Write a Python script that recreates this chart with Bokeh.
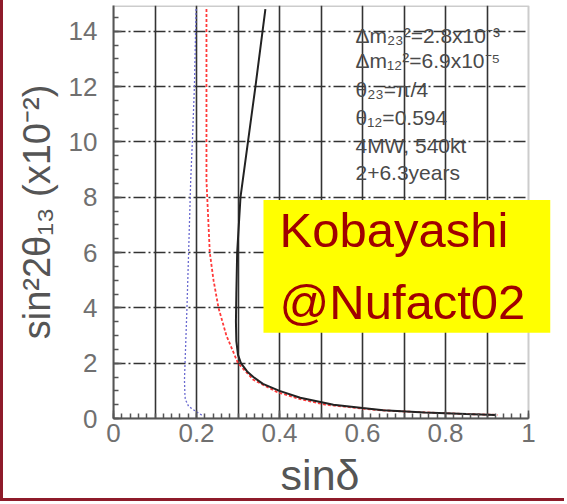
from bokeh.plotting import figure
from bokeh.models import FixedTicker, Label, Range1d, BoxAnnotation
from bokeh.embed import file_html
from bokeh.resources import INLINE

# ---- data ----
blue_x = [0.199, 0.195, 0.190, 0.186, 0.181, 0.177, 0.171, 0.172, 0.173, 0.181, 0.198, 0.217]
blue_y = [14.8, 12.0, 10.0, 8.6, 6.0, 4.0, 1.4, 0.9, 0.69, 0.44, 0.26, 0.08]

red_x = [0.224, 0.224, 0.232, 0.241, 0.253, 0.272, 0.300, 0.337, 0.395, 0.45, 0.51, 0.64, 0.75, 0.85, 0.926]
red_y = [14.8, 8.6, 6.0, 5.0, 4.0, 3.0, 2.0, 1.4, 0.95, 0.7, 0.5, 0.3, 0.22, 0.16, 0.13]

black_x = [0.366, 0.342, 0.324, 0.306, 0.298, 0.296, 0.295, 0.296, 0.300, 0.307, 0.322, 0.337, 0.36, 0.40, 0.45, 0.53, 0.60, 0.65, 0.75, 0.85, 0.92]
black_y = [14.8, 12.0, 10.0, 8.0, 6.0, 4.5, 3.5, 2.8, 2.3, 2.0, 1.7, 1.5, 1.25, 1.0, 0.75, 0.5, 0.38, 0.3, 0.22, 0.16, 0.13]

x_ticks = [0, 0.2, 0.4, 0.6, 0.8, 1.0]
x_tick_labels = ["0", "0.2", "0.4", "0.6", "0.8", "1"]
x_grid = [0.1, 0.2, 0.3, 0.4, 0.5, 0.6, 0.7, 0.8, 0.9]
y_ticks = [0, 2, 4, 6, 8, 10, 12, 14]

params = ["Δm₂₃²=2.8x10⁻³", "Δm₁₂²=6.9x10⁻⁵", "θ₂₃=π/4", "θ₁₂=0.594", "4MW, 540kt", "2+6.3years"]
params_y = [13.85, 12.95, 11.90, 10.89, 9.88, 8.91]
stamp = ["Kobayashi", "@Nufact02"]

FONT = "Liberation Sans"
YELLOW = "#FFFF00"
FRAME = "#555555"
X_MAX, Y_MAX = 1.0, 14.93

# the canvas area extends a little past x=1 so the yellow stamp can overhang the frame
p = figure(width=564, height=501, output_backend="svg", toolbar_location=None,
           x_range=Range1d(0, 1.053), y_range=Range1d(0, Y_MAX),
           min_border_left=110, min_border_right=17, min_border_top=5, min_border_bottom=82,
           background_fill_color="white", border_fill_color="white")
p.styles = {"border-left": "3px solid #8E1B2A", "border-bottom": "3px solid #8E1B2A"}
p.outline_line_color = None

# axes
p.xaxis.ticker = FixedTicker(ticks=x_ticks, minor_ticks=[round(0.02 * i, 2) for i in range(51)])
p.xaxis.major_label_overrides = {t: l for t, l in zip(x_ticks, x_tick_labels)}
p.xaxis.bounds = (0, X_MAX)
p.yaxis.ticker = FixedTicker(ticks=y_ticks, minor_ticks=[0.5 * i for i in range(30)])
for ax in (p.xaxis[0], p.yaxis[0]):
    ax.axis_line_color = FRAME
    ax.axis_line_width = 2
    ax.major_tick_in = 8
    ax.major_tick_out = 0
    ax.minor_tick_in = 5
    ax.minor_tick_out = 0
    ax.major_tick_line_color = FRAME
    ax.minor_tick_line_color = FRAME
    ax.major_tick_line_width = 1.5
    ax.minor_tick_line_width = 1.5
    ax.major_label_text_font = FONT
    ax.major_label_text_font_size = "26px"
    ax.major_label_text_color = "#707070"
    ax.axis_label_text_font = FONT
    ax.axis_label_text_font_style = "normal"
    ax.axis_label_text_color = "#555555"

p.xaxis.axis_label = "sinδ\u00a0\u00a0"
p.xaxis.axis_label_text_font_size = "43px"
p.xaxis.major_label_standoff = 5
p.xaxis.axis_label_standoff = 6

p.yaxis.axis_label = "sin²2θ₁₃ (x10⁻²)"
p.yaxis.axis_label_text_font_size = "38px"
p.yaxis.major_label_standoff = 16
p.yaxis.axis_label_standoff = 8

# grid
p.xgrid.ticker = FixedTicker(ticks=x_grid)
p.xgrid.grid_line_color = "#333333"
p.xgrid.grid_line_width = 1.6
yg = p.ygrid[0]
if "cross_bounds" in yg.properties():
    yg.ticker = FixedTicker(ticks=y_ticks)
    yg.cross_bounds = (0, X_MAX)
    yg.grid_line_color = "#333333"
    yg.grid_line_width = 1.6
    yg.grid_line_dash = "12 3 2 3"
else:
    yg.visible = False
    p.segment(x0=[0] * len(y_ticks), x1=[X_MAX] * len(y_ticks), y0=y_ticks, y1=y_ticks,
              line_color="#333333", line_width=1.6, line_dash="12 3 2 3")

# plot frame (0..1 in x)
p.add_layout(BoxAnnotation(left=0, right=X_MAX, bottom=0, top=Y_MAX - 0.02,
                           fill_alpha=0, line_color=FRAME, line_width=2, level="overlay"))

# curves
p.line(blue_x, blue_y, line_color="#6A6AD0", line_width=1.3, line_dash="2 2")
p.line(red_x, red_y, line_color="#FF3A3A", line_width=1.8, line_dash="3 2")
p.line(black_x, black_y, line_color="#222222", line_width=2)

# parameter text
for t, y in zip(params, params_y):
    p.add_layout(Label(x=0.583, y=y, text=t, text_font=FONT, text_font_size="21px",
                       text_color="#4A4A4A", text_baseline="middle", text_align="left"))

# yellow stamp
p.add_layout(BoxAnnotation(left=0.3614, right=1.053, top=7.898, bottom=3.101,
                           fill_color=YELLOW, fill_alpha=1.0, line_color=None, level="overlay"))
for t, y in zip(stamp, [6.80, 4.20]):
    p.add_layout(Label(x=0.4000, y=y, text=t, text_font=FONT, text_font_size="49px",
                       text_color="#A00000", text_baseline="alphabetic", text_align="left",
                       level="overlay"))

open("out.html", "w").write(file_html(p, INLINE))
